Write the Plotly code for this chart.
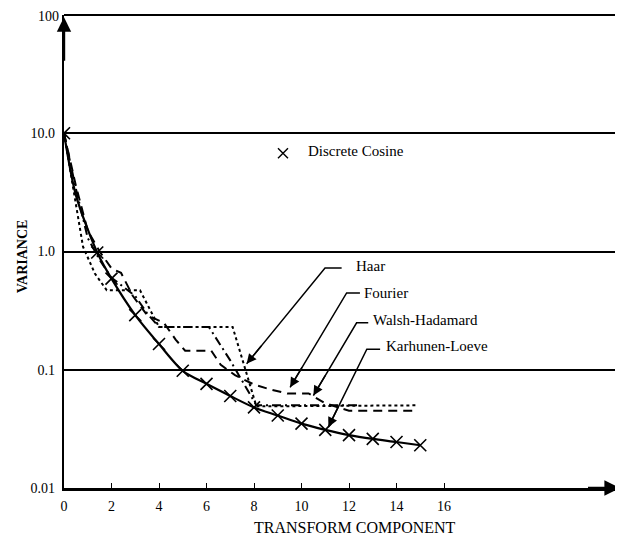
import plotly.graph_objects as go

# ---- data ----
dc_x = [0, 1.4, 2, 3, 4, 5, 6, 7, 8, 9, 10, 11, 12, 13, 14, 15]
dc_y = [10, 0.98, 0.59, 0.29, 0.165, 0.098, 0.076, 0.060, 0.048, 0.041, 0.035, 0.031, 0.028, 0.026, 0.0245, 0.023]

kl_x = [0, 0.5, 1.4, 2, 3, 4, 5, 6, 7, 8, 9, 10, 11, 12, 13, 14, 15]
kl_y = [10, 3.0, 0.98, 0.59, 0.29, 0.165, 0.098, 0.076, 0.060, 0.048, 0.041, 0.035, 0.031, 0.028, 0.026, 0.0245, 0.023]

haar_x = [0, 0.4, 0.8, 1.3, 1.8, 3.2, 4.0, 7.1, 8.1, 14.8]
haar_y = [10, 3.2, 1.1, 0.65, 0.47, 0.47, 0.23, 0.23, 0.049, 0.05]

fourier_x = [0, 0.5, 1.0, 1.5, 2.0, 2.4, 2.9, 3.5, 4.2, 4.7, 5.1, 6.2, 6.6, 7.2, 8.0, 8.7, 9.4, 10.3, 11.0, 12.0, 14.7]
fourier_y = [10, 3.6, 1.5, 1.0, 0.72, 0.66, 0.42, 0.29, 0.25, 0.18, 0.145, 0.145, 0.11, 0.09, 0.075, 0.068, 0.063, 0.063, 0.052, 0.045, 0.045]

wh_x = [0, 0.5, 1.0, 1.5, 2.0, 2.5, 3.0, 3.5, 4.0, 6.1, 7.0, 8.1, 12.5]
wh_y = [10, 3.4, 1.3, 0.85, 0.6, 0.5, 0.42, 0.3, 0.23, 0.23, 0.12, 0.05, 0.05]

x_ticks = [0, 2, 4, 6, 8, 10, 12, 14, 16]
y_ticks = [0.01, 0.1, 1, 10, 100]
y_tick_text = ["0.01", "0.1", "1.0", "10.0", ""]
top_tick_text = "100"

FONT = "Liberation Serif"
BLACK = "#000000"

fig = go.Figure()

fig.add_trace(go.Scatter(x=haar_x, y=haar_y, mode="lines", name="Haar",
                         line=dict(color=BLACK, width=2, dash="dot")))
fig.add_trace(go.Scatter(x=fourier_x, y=fourier_y, mode="lines", name="Fourier",
                         line=dict(color=BLACK, width=2, dash="9px,6px")))
fig.add_trace(go.Scatter(x=wh_x, y=wh_y, mode="lines", name="Walsh-Hadamard",
                         line=dict(color=BLACK, width=2, dash="9px,4px,2px,4px")))
fig.add_trace(go.Scatter(x=kl_x, y=kl_y, mode="lines", name="Karhunen-Loeve",
                         line=dict(color=BLACK, width=2.2, shape="spline", smoothing=0.8)))
fig.add_trace(go.Scatter(x=dc_x, y=dc_y, mode="markers", name="Discrete Cosine",
                         marker=dict(symbol="x-thin", size=12, color=BLACK,
                                     line=dict(color=BLACK, width=1.6))))
# key marker for Discrete Cosine
fig.add_trace(go.Scatter(x=[9.22], y=[10 ** 0.83], mode="markers", showlegend=False,
                         marker=dict(symbol="x-thin", size=10, color=BLACK,
                                     line=dict(color=BLACK, width=1.4))))

annotations = []
annotations.append(dict(x=10.2, y=0.85, xref="x", yref="y", text="Discrete Cosine",
                        showarrow=False, xanchor="left", yanchor="middle",
                        font=dict(family=FONT, size=15, color=BLACK)))

labels = [
    # text, text_x, text_logy, hstart_x, hend_x, h_logy, tip_x, tip_logy, head_dx, head_dy
    ("Haar", 12.2, -0.12, 10.99, 11.69, -0.14, 7.69, -0.95, 15.8, -19.4),
    ("Fourier", 12.55, -0.355, 11.90, 12.46, -0.35, 9.52, -1.149, 12.8, -21.5),
    ("Walsh-Hadamard", 12.93, -0.58, 12.32, 12.81, -0.603, 10.5, -1.218, 12.7, -21.5),
    ("Karhunen-Loeve", 13.48, -0.80, 12.75, 13.31, -0.826, 11.13, -1.485, 11.0, -22.5),
]
for t, tx, ty, hs, he, hy, px, py, hdx, hdy in labels:
    annotations.append(dict(x=tx, y=ty, xref="x", yref="y", text=t, showarrow=False,
                            xanchor="left", yanchor="middle",
                            font=dict(family=FONT, size=15, color=BLACK)))
    fig.add_trace(go.Scatter(x=[he, hs, px], y=[10 ** hy, 10 ** hy, 10 ** py], mode="lines",
                             showlegend=False, hoverinfo="skip",
                             line=dict(color=BLACK, width=1.5)))
    annotations.append(dict(x=px, y=py, ax=hdx, ay=hdy, xref="x", yref="y",
                            text="", showarrow=True, arrowhead=2, arrowsize=1.3, arrowwidth=1.5,
                            arrowcolor=BLACK))

# top tick label
annotations.append(dict(x=0, y=1, xref="paper", yref="paper", text=top_tick_text, showarrow=False,
                        xanchor="right", yanchor="middle", xshift=-3, yshift=-1,
                        font=dict(family=FONT, size=14, color=BLACK)))

# axis arrows
annotations.append(dict(x=0, y=1.98, ax=0, ay=1.6, xref="x", yref="y", axref="x", ayref="y",
                        text="", showarrow=True, arrowhead=2, arrowsize=1.2, arrowwidth=2.4,
                        arrowcolor=BLACK))
annotations.append(dict(x=23.41, y=-2, ax=22.0, ay=-2, xref="x", yref="y", axref="x", ayref="y",
                        text="", showarrow=True, arrowhead=2, arrowsize=1.2, arrowwidth=2.6,
                        arrowcolor=BLACK))

# axis titles
annotations.append(dict(x=0.523, y=-0.083, xref="paper", yref="paper", text="TRANSFORM COMPONENT",
                        showarrow=False, xanchor="center", yanchor="middle",
                        font=dict(family=FONT, size=16, color=BLACK)))
annotations.append(dict(x=-0.0755, y=0.49, xref="paper", yref="paper", text="<b>VARIANCE</b>",
                        showarrow=False, textangle=-90, xanchor="center", yanchor="middle",
                        font=dict(family=FONT, size=14, color=BLACK)))

# the page has an 8px body margin, so the figure is shrunk by 8px and margins shifted
fig.update_layout(
    width=615, height=539,
    margin=dict(l=56, r=3, t=7, b=59),
    paper_bgcolor="white", plot_bgcolor="white",
    showlegend=False,
    font=dict(family=FONT, size=14, color=BLACK),
    annotations=annotations,
    shapes=[dict(type="line", xref="paper", yref="paper", x0=0, x1=1.005, y0=1, y1=1,
                 line=dict(color=BLACK, width=1.8))],
)
fig.update_xaxes(range=[0, 23.41], tickvals=x_ticks, ticks="inside", ticklen=5, tickwidth=1.4,
                 tickcolor=BLACK, showgrid=False, zeroline=False, showline=True, linewidth=2.6,
                 linecolor=BLACK, ticklabelstandoff=3,
                 tickfont=dict(family=FONT, size=14, color=BLACK))
fig.update_yaxes(type="log", range=[-2, 2], tickvals=y_ticks, ticktext=y_tick_text, ticks="",
                 showgrid=True, gridcolor=BLACK, gridwidth=1.6, zeroline=False, showline=True,
                 linewidth=2.4, linecolor=BLACK, ticklabelstandoff=4,
                 tickfont=dict(family=FONT, size=14, color=BLACK))

fig.write_html("out.html")
